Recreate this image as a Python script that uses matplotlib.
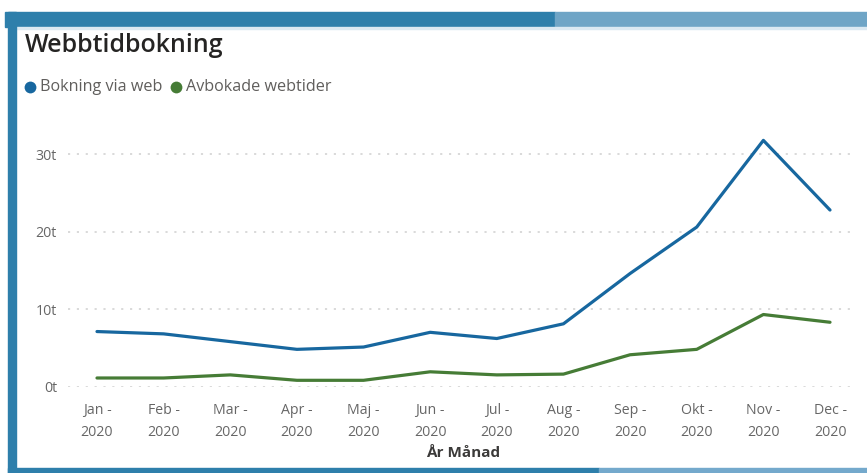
import matplotlib
matplotlib.use("Agg")
import matplotlib.pyplot as plt
from matplotlib.patches import Rectangle
from matplotlib.lines import Line2D

# Monthly series (thousands)
months = ["Jan -\n2020", "Feb -\n2020", "Mar -\n2020", "Apr -\n2020", "Maj -\n2020", "Jun -\n2020",
          "Jul -\n2020", "Aug -\n2020", "Sep -\n2020", "Okt -\n2020", "Nov -\n2020", "Dec -\n2020"]
web_bookings = [7.1, 6.8, 5.8, 4.8, 5.1, 7.0, 6.2, 8.1, 14.6, 20.6, 31.8, 22.8]
cancelled = [1.1, 1.1, 1.5, 0.8, 0.8, 1.9, 1.5, 1.6, 4.1, 4.8, 9.3, 8.3]
y_ticks = [0, 10, 20, 30]
y_tick_labels = ["0t", "10t", "20t", "30t"]
series_names = ["Bokning via web", "Avbokade webtider"]

BLUE = "#17679f"
GREEN = "#467c36"
FONT = ["Open Sans", "DejaVu Sans"]

W, H = 867, 473
fig = plt.figure(figsize=(W / 100, H / 100), dpi=100)
fig.patch.set_facecolor("white")


def px(x, y):
    return x / W, 1 - y / H


# Frame: top bar, left border, bottom bar
def rect(x0, y0, x1, y1, color):
    fig.patches.append(Rectangle((x0 / W, 1 - y1 / H), (x1 - x0) / W, (y1 - y0) / H,
                                 transform=fig.transFigure, color=color, zorder=0))

rect(5, 12, 555, 27, "#2e7fab")
rect(555, 12, 867, 27, "#6fa5c6")
rect(16, 27, 867, 29, "#dbe9f2")
rect(8, 12, 16, 473, "#2e7fab")
rect(8, 468, 599, 473, "#2e7fab")
rect(599, 468, 867, 473, "#74a9cc")

# Title
fig.text(*px(25, 46), "Webbtidbokning", family=FONT, fontsize=18, color="#252423",
         fontweight="semibold", va="center", ha="left")

# Legend
lx = 30
for name, col in zip(series_names, [BLUE, GREEN]):
    cx, cy = px(lx, 87)
    fig.add_artist(Line2D([cx], [cy], transform=fig.transFigure, marker="o",
                          markersize=8.5, color=col, markeredgewidth=0, linestyle="none"))
    t = fig.text(*px(lx + 10, 87), name, family=FONT, fontsize=11.6, color="#605e5c",
                 va="center", ha="left")
    fig.canvas.draw()
    bb = t.get_window_extent()
    lx = bb.x1 + 14

# Plot area
left, right = 68, 855
y0_px = 386.5
px_per_unit = 7.74
ymax = 33
top_px = y0_px - ymax * px_per_unit
ax = fig.add_axes([left / W, 1 - y0_px / H, (right - left) / W, (y0_px - top_px) / H])
ax.set_facecolor("none")

x = list(range(len(months)))
ax.plot(x, web_bookings, color=BLUE, lw=2.3, solid_joinstyle="round", solid_capstyle="round")
ax.plot(x, cancelled, color=GREEN, lw=2.3, solid_joinstyle="round", solid_capstyle="round")

ax.set_xlim(-0.435, 11.375)
ax.set_ylim(0, ymax)
ax.set_yticks(y_ticks)
ax.set_yticklabels(y_tick_labels)
ax.set_xticks(x)
ax.set_xticklabels(months, linespacing=1.65)
for s in ax.spines.values():
    s.set_visible(False)
ax.tick_params(axis="both", length=0, colors="#666666", labelsize=10.2)
ax.tick_params(axis="x", pad=12)
ax.tick_params(axis="y", pad=8)
for lab in ax.get_xticklabels() + ax.get_yticklabels():
    lab.set_family(FONT)
ax.yaxis.grid(True, color="#cfcfcf", lw=1.1, linestyle=(0, (1.4, 4.4)))
ax.set_axisbelow(True)

fig.text(*px(463, 453), "År Månad", family=FONT, fontsize=11, color="#3b3a39",
         fontweight="bold", ha="center", va="center")

fig.savefig("out.png", dpi=100, facecolor="white")
